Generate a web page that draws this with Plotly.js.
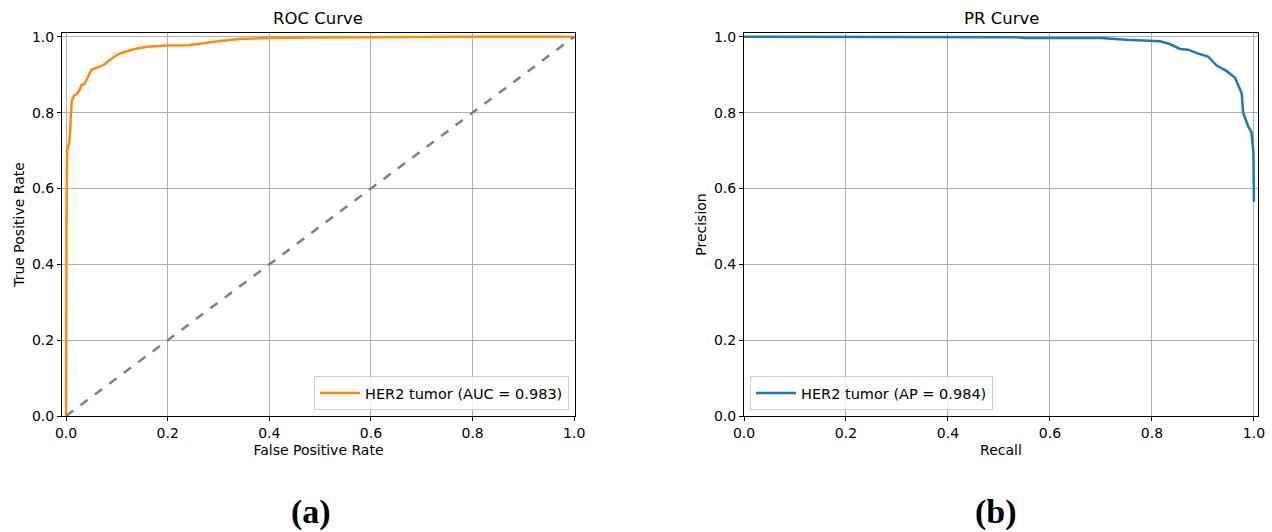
<!DOCTYPE html>
<html>
<head>
<meta charset="utf-8">
<script src="https://cdn.plot.ly/plotly-3.0.1.min.js"></script>
<style>html,body{margin:0;padding:0;background:#fff;}#chart{width:1272px;height:532px;}</style>
</head>
<body>
<div id="chart"></div>
<script>
// ROC curve (False Positive Rate vs True Positive Rate)
const rocFpr = [0, 0, 0.001, 0.002, 0.006, 0.008, 0.010, 0.011, 0.016, 0.020, 0.027, 0.030, 0.036, 0.040, 0.050, 0.060, 0.073, 0.086, 0.100, 0.110, 0.135, 0.160, 0.200, 0.240, 0.260, 0.300, 0.340, 0.400, 0.500, 0.600, 0.700, 0.800, 1.0];
const rocTpr = [0, 0.30, 0.53, 0.70, 0.72, 0.75, 0.79, 0.83, 0.845, 0.848, 0.86, 0.873, 0.875, 0.887, 0.913, 0.918, 0.925, 0.939, 0.952, 0.958, 0.968, 0.974, 0.977, 0.978, 0.982, 0.988, 0.994, 0.997, 0.998, 0.999, 0.999, 1.0, 1.0];
// Chance diagonal
const diagX = [0, 1];
const diagY = [0, 1];
// PR curve (Recall vs Precision)
const prRecall = [0, 0.30, 0.53, 0.55, 0.70, 0.75, 0.80, 0.816, 0.835, 0.855, 0.871, 0.888, 0.910, 0.927, 0.946, 0.963, 0.976, 0.979, 0.989, 0.995, 0.999, 1.0];
const prPrecision = [1.0, 1.0, 0.999, 0.997, 0.997, 0.992, 0.989, 0.988, 0.981, 0.968, 0.966, 0.957, 0.948, 0.924, 0.910, 0.892, 0.851, 0.799, 0.763, 0.750, 0.697, 0.565];
const rocLabel = "HER2 tumor (AUC = 0.983)";
const prLabel = "HER2 tumor (AP = 0.984)";
const tickVals = [0, 0.2, 0.4, 0.6, 0.8, 1.0];
const tickText = ["0.0", "0.2", "0.4", "0.6", "0.8", "1.0"];

const W = 1272, H = 532;
const font = "DejaVu Sans, sans-serif";
function axisBase(extra) {
  return Object.assign({
    showline: true, mirror: true, linecolor: "#000", linewidth: 1,
    ticks: "outside", ticklen: 4, tickwidth: 1, tickcolor: "#000",
    showgrid: true, gridcolor: "#b0b0b0", gridwidth: 1,
    zeroline: false, tickmode: "array", tickvals: tickVals, ticktext: tickText,
    tickfont: {family: font, size: 14, color: "#000"},
    ticklabeloverflow: "allow",
    automargin: false
  }, extra);
}
const traces = [
  {x: rocFpr, y: rocTpr, type: "scatter", mode: "lines", name: rocLabel,
   line: {color: "#ff8c00", width: 2.5}, xaxis: "x", yaxis: "y", legend: "legend"},
  {x: diagX, y: diagY, type: "scatter", mode: "lines", showlegend: false,
   line: {color: "#808080", width: 2.5, dash: "dash"}, xaxis: "x", yaxis: "y"},
  {x: prRecall, y: prPrecision, type: "scatter", mode: "lines", name: prLabel,
   line: {color: "#1f77b4", width: 2.5}, xaxis: "x2", yaxis: "y2", legend: "legend2"}
];
const yDom = [(H - 416) / H, (H - 33) / H];
const layout = {
  width: W, height: H,
  margin: {l: 0, r: 0, t: 0, b: 0},
  paper_bgcolor: "#fff", plot_bgcolor: "#fff",
  font: {family: font, color: "#000"},
  xaxis: axisBase({domain: [62 / W, 575 / W], range: [-0.008, 1.0015], anchor: "y",
    title: {text: "False Positive Rate", font: {family: font, size: 14}, standoff: 5}}),
  yaxis: axisBase({domain: yDom, range: [0, 1.01], anchor: "x",
    title: {text: "True Positive Rate", font: {family: font, size: 14}, standoff: 4}}),
  xaxis2: axisBase({domain: [744 / W, 1258 / W], range: [0, 1.008], anchor: "y2",
    title: {text: "Recall", font: {family: font, size: 14}, standoff: 5}}),
  yaxis2: axisBase({domain: yDom, range: [0, 1.01], anchor: "x2",
    title: {text: "Precision", font: {family: font, size: 14}, standoff: 4}}),
  legend: {x: 569 / W, y: (H - 410) / H, xanchor: "right", yanchor: "bottom",
    bgcolor: "rgba(255,255,255,0.8)", bordercolor: "#d0d0d0", borderwidth: 1,
    font: {family: font, size: 14.5}, itemwidth: 40},
  legend2: {x: 750 / W, y: (H - 410) / H, xanchor: "left", yanchor: "bottom",
    bgcolor: "rgba(255,255,255,0.8)", bordercolor: "#d0d0d0", borderwidth: 1,
    font: {family: font, size: 14.5}, itemwidth: 40},
  annotations: [
    {text: "ROC Curve", xref: "paper", yref: "paper", x: 318 / W, y: (H - 18) / H,
     xanchor: "center", yanchor: "middle", showarrow: false, font: {family: font, size: 16.5}},
    {text: "PR Curve", xref: "paper", yref: "paper", x: 1001 / W, y: (H - 18) / H,
     xanchor: "center", yanchor: "middle", showarrow: false, font: {family: font, size: 16.5}},
    {text: "<b>(a)</b>", xref: "paper", yref: "paper", x: 311 / W, y: (H - 512) / H,
     xanchor: "center", yanchor: "middle", showarrow: false, font: {family: "Liberation Serif, serif", size: 34}},
    {text: "<b>(b)</b>", xref: "paper", yref: "paper", x: 996 / W, y: (H - 512) / H,
     xanchor: "center", yanchor: "middle", showarrow: false, font: {family: "Liberation Serif, serif", size: 34}}
  ]
};
Plotly.newPlot("chart", traces, layout, {displayModeBar: false, staticPlot: true});
</script>
</body>
</html>
